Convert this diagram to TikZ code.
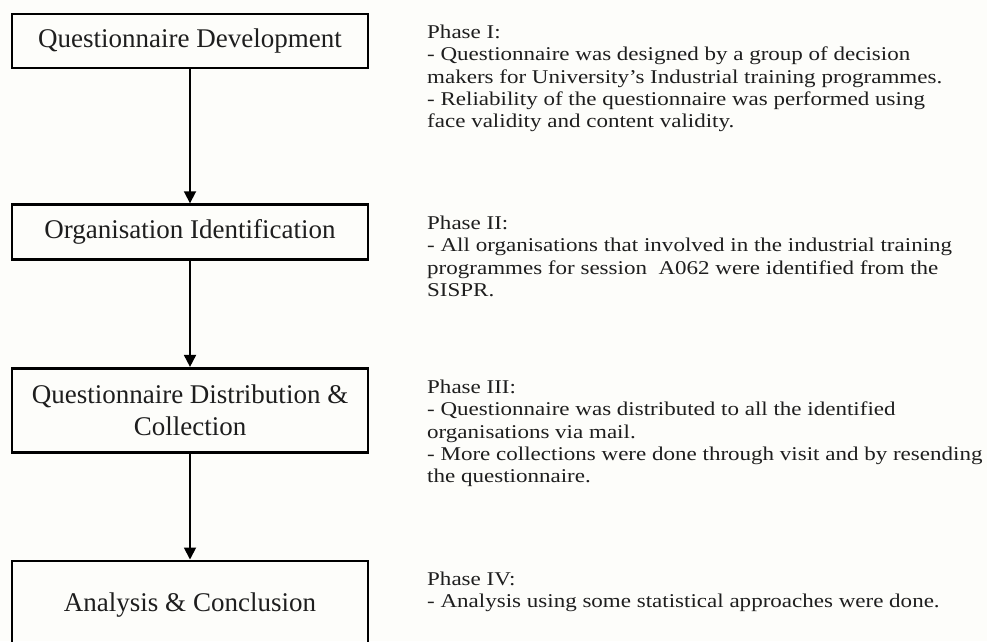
\documentclass[tikz,border=0pt]{standalone}
\usepackage{fontspec}
\setmainfont{Liberation Serif}
\newfontfamily\notefont[FakeStretch=1.18,Ligatures=TeX]{Liberation Serif}
\usetikzlibrary{positioning,arrows.meta}
\definecolor{paper}{RGB}{253,253,250}
\definecolor{ink}{RGB}{30,30,30}
\tikzset{
phasebox/.style={draw=black,line width=2.6pt,minimum width=356pt,inner sep=0pt,align=center,text=ink,font=\fontsize{27}{32}\selectfont},
phasetext/.style={anchor=north west,inner sep=0pt,align=left,text=ink,font=\notefont\fontsize{19.5}{22.2}\selectfont},
flow/.style={line width=1.8pt,-{Triangle[length=12pt,width=12pt]}}
}
\begin{document}
\begin{tikzpicture}[x=1pt,y=-1pt]
\useasboundingbox (0,0) rectangle (987,641);
\clip (0,0) rectangle (987,641);
\fill[paper] (0,0) rectangle (987,641);
\node[phasebox,minimum height=54pt](dev) at (190,41) {Questionnaire Development};
\node[phasebox,minimum height=55pt,below=134pt of dev](org) {Organisation Identification};
\node[phasebox,minimum height=84pt,below=106pt of org](dist) {Questionnaire Distribution \&\\Collection};
\node[phasebox,minimum height=88pt,below=106pt of dist](ana) {Analysis \& Conclusion};
\draw[flow](dev)--(org);
\draw[flow](org)--(dist);
\draw[flow](dist)--(ana);
\node[phasetext](p1) at (427,25) {Phase I:\\
- Questionnaire was designed by a group of decision\\
makers for University’s Industrial training programmes.\\
- Reliability of the questionnaire was performed using\\
face validity and content validity.};
\node[phasetext](p2) at (427,216) {Phase II:\\
- All organisations that involved in the industrial training\\
programmes for session\ \ A062 were identified from the\\
SISPR.};
\node[phasetext](p3) at (427,380) {Phase III:\\
- Questionnaire was distributed to all the identified\\
organisations via mail.\\
- More collections were done through visit and by resending\\
the questionnaire.};
\node[phasetext](p4) at (427,572) {Phase IV:\\
- Analysis using some statistical approaches were done.};
\end{tikzpicture}
\end{document}
